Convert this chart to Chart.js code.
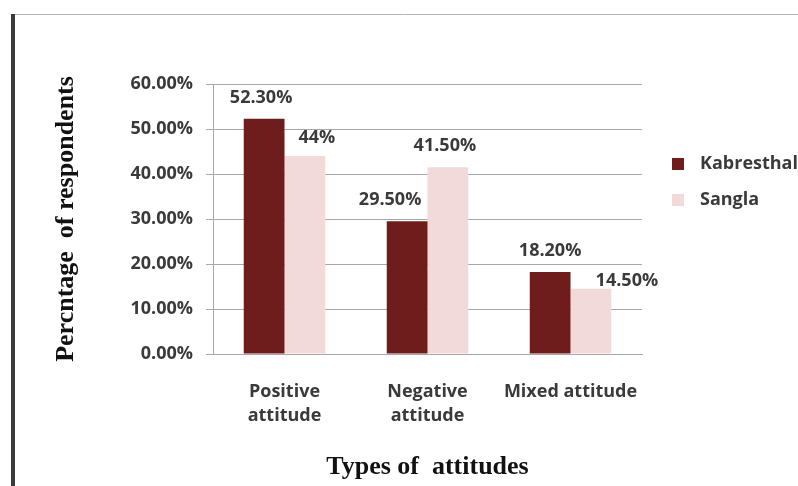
<!DOCTYPE html>
<html>
<head>
<meta charset="utf-8">
<script src="https://cdn.jsdelivr.net/npm/chart.js@4/dist/chart.umd.min.js"></script>
<style>
  html, body { margin: 0; padding: 0; background: #ffffff; }
  #wrap { position: relative; width: 798px; height: 486px; }
</style>
</head>
<body>
<div id="wrap"><canvas id="c" width="798" height="486"></canvas></div>
<script>
// Attitude categories and the share of respondents (%) in each village
const categories = [["Positive", "attitude"], ["Negative", "attitude"], "Mixed attitude"];
const kabresthal = [52.3, 29.5, 18.2];
const sangla = [44, 41.5, 14.5];
const seriesNames = ["Kabresthal", "Sangla"];
const yTicks = [0, 10, 20, 30, 40, 50, 60];

// Small hand placement of the value labels (dx, dy from the default spot above each bar)
const labelNudge = [
  [[-3, 0], [-17, 0], [0, 0]],
  [[12, 3], [-3, 0], [36, 13]]
];

const colors = ["#6e1c1c", "#f2dada"];
const textGray = "#3a3a3a";
const gridGray = "#a8a8a8";
const sansFont = "'Open Sans', 'Liberation Sans', sans-serif";
const serifFont = "'Liberation Serif', 'DejaVu Serif', serif";

function pct(v) {
  return Number.isInteger(v) ? v + "%" : v.toFixed(2) + "%";
}

// Frame: dark left rule and light top rule around the figure
const framePlugin = {
  id: "frame",
  beforeDraw(chart) {
    const ctx = chart.ctx;
    ctx.save();
    ctx.fillStyle = "#ffffff";
    ctx.fillRect(0, 0, chart.width, chart.height);
    ctx.strokeStyle = "#b4b4b4";
    ctx.lineWidth = 1;
    ctx.beginPath();
    ctx.moveTo(11, 14.5);
    ctx.lineTo(chart.width, 14.5);
    ctx.stroke();
    ctx.fillStyle = "#3a3a3a";
    ctx.fillRect(11, 14, 4, chart.height - 14);
    ctx.restore();
  }
};

// Value labels above the bars
const valueLabels = {
  id: "valueLabels",
  afterDatasetsDraw(chart) {
    const ctx = chart.ctx;
    ctx.save();
    ctx.font = "bold 18px " + sansFont;
    ctx.fillStyle = textGray;
    ctx.textAlign = "center";
    ctx.textBaseline = "middle";
    chart.data.datasets.forEach((ds, di) => {
      const meta = chart.getDatasetMeta(di);
      meta.data.forEach((bar, i) => {
        const v = ds.data[i];
        const n = labelNudge[di][i];
        ctx.fillText(pct(v), bar.x + n[0], bar.y - 21 + n[1]);
      });
    });
    ctx.restore();
  }
};

// Legend on the right
const sideLegend = {
  id: "sideLegend",
  afterDraw(chart) {
    const ctx = chart.ctx;
    ctx.save();
    ctx.font = "bold 18px " + sansFont;
    ctx.textBaseline = "middle";
    ctx.textAlign = "left";
    chart.data.datasets.forEach((ds, i) => {
      const y = 164 + i * 36;
      ctx.fillStyle = ds.backgroundColor;
      ctx.fillRect(672, y - 6, 12, 12);
      ctx.fillStyle = textGray;
      ctx.fillText(ds.label, 700, y);
    });
    ctx.restore();
  }
};

new Chart(document.getElementById("c"), {
  type: "bar",
  data: {
    labels: categories,
    datasets: [
      { label: seriesNames[0], data: kabresthal, backgroundColor: colors[0] },
      { label: seriesNames[1], data: sangla, backgroundColor: colors[1] }
    ]
  },
  options: {
    responsive: false,
    animation: false,
    devicePixelRatio: 1,
    layout: { padding: { top: 84, right: 156, bottom: 0, left: 0 } },
    datasets: { bar: { categoryPercentage: 0.57, barPercentage: 1.0 } },
    plugins: { legend: { display: false }, tooltip: { enabled: false } },
    scales: {
      x: {
        grid: { display: false, drawTicks: false },
        border: { display: true, color: gridGray },
        ticks: {
          color: textGray,
          font: { family: sansFont, size: 18, weight: "bold", lineHeight: 1.33 },
          padding: 26,
          maxRotation: 0,
          autoSkip: false
        },
        title: {
          display: true,
          text: "Types of  attitudes",
          color: "#111111",
          font: { family: serifFont, size: 26, weight: "bold", lineHeight: 1.2 },
          padding: { top: 0, bottom: 3 }
        },
        afterFit(scale) { scale.height = 132; }
      },
      y: {
        min: 0,
        max: 60,
        afterBuildTicks(scale) { scale.ticks = yTicks.map(v => ({ value: v })); },
        grid: { color: gridGray, lineWidth: 1, drawTicks: true, tickLength: 7 },
        border: { display: true, color: gridGray },
        ticks: {
          color: textGray,
          font: { family: sansFont, size: 18, weight: "bold" },
          padding: 13,
          callback: v => v.toFixed(2) + "%"
        },
        title: {
          display: true,
          text: "Percntage  of respondents",
          color: "#111111",
          font: { family: serifFont, size: 26, weight: "bold", lineHeight: 1.2 },
          padding: { top: 51, bottom: 0 }
        },
        afterFit(scale) { scale.width = 213; }
      }
    }
  },
  plugins: [framePlugin, valueLabels, sideLegend]
});
</script>
</body>
</html>
